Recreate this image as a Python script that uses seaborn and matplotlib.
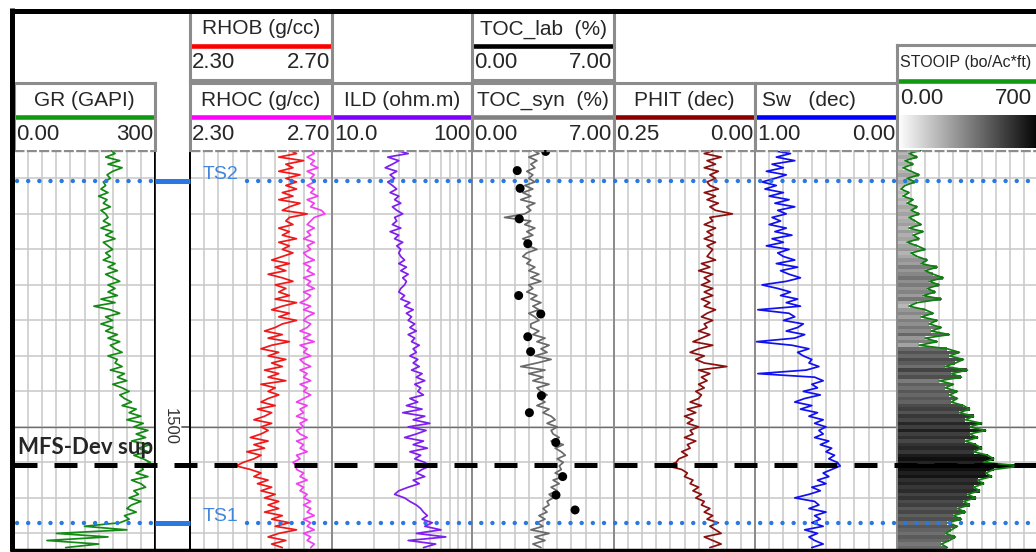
import numpy as np
import seaborn as sns
import matplotlib.pyplot as plt
from matplotlib import colors as mcolors

sns.set_style('white')
plt.rcParams['font.family'] = ['Liberation Sans', 'DejaVu Sans']

W, H = 1036, 552

# log samples every 0.5 m, 1461.0 - 1517.0 m
depth = 1461.0 + 0.5 * np.arange(113)

gr = [205, 215, 195, 225, 200, 230, 210, 198, 205, 190,
      195, 185, 200, 180, 198, 190, 205, 185, 195, 200,
      190, 205, 185, 210, 195, 215, 190, 200, 210, 195,
      205, 190, 215, 200, 220, 195, 210, 225, 200, 215,
      200, 220, 185, 215, 170, 205, 225, 195, 210, 185,
      210, 195, 220, 200, 225, 205, 215, 230, 200, 220,
      215, 230, 205, 235, 220, 240, 210, 230, 245, 225,
      235, 250, 230, 260, 245, 270, 240, 275, 255, 285,
      260, 280, 250, 290, 265, 285, 255, 275, 290, 270,
      275, 260, 285, 250, 270, 280, 255, 265, 245, 270,
      250, 240, 260, 235, 245, 225, 150, 240, 90, 200,
      70, 180, 110]

rhob = [2.58, 2.60, 2.55, 2.62, 2.57, 2.59, 2.55, 2.61, 2.57, 2.60,
        2.57, 2.60, 2.56, 2.59, 2.55, 2.61, 2.58, 2.56, 2.63, 2.58,
        2.57, 2.59, 2.55, 2.58, 2.56, 2.60, 2.55, 2.58, 2.56, 2.59,
        2.56, 2.53, 2.58, 2.54, 2.57, 2.52, 2.56, 2.59, 2.54, 2.57,
        2.55, 2.58, 2.54, 2.60, 2.56, 2.53, 2.58, 2.55, 2.60, 2.56,
        2.54, 2.51, 2.56, 2.52, 2.58, 2.53, 2.50, 2.55, 2.52, 2.57,
        2.53, 2.56, 2.51, 2.55, 2.52, 2.57, 2.50, 2.54, 2.52, 2.55,
        2.52, 2.50, 2.54, 2.49, 2.53, 2.51, 2.48, 2.53, 2.50, 2.52,
        2.50, 2.47, 2.52, 2.48, 2.51, 2.46, 2.50, 2.48, 2.45, 2.43,
        2.47, 2.50, 2.48, 2.52, 2.49, 2.53, 2.50, 2.54, 2.51, 2.55,
        2.52, 2.55, 2.51, 2.56, 2.53, 2.58, 2.54, 2.60, 2.55, 2.52,
        2.57, 2.53, 2.56]

rhoc = [2.64, 2.65, 2.63, 2.65, 2.64, 2.66, 2.63, 2.65, 2.64, 2.65,
        2.63, 2.65, 2.64, 2.66, 2.63, 2.65, 2.64, 2.67, 2.68, 2.65,
        2.64, 2.63, 2.65, 2.63, 2.64, 2.62, 2.65, 2.63, 2.64, 2.62,
        2.63, 2.65, 2.62, 2.64, 2.63, 2.65, 2.62, 2.64, 2.63, 2.65,
        2.62, 2.64, 2.63, 2.61, 2.64, 2.62, 2.65, 2.63, 2.62, 2.64,
        2.63, 2.61, 2.64, 2.62, 2.65, 2.61, 2.63, 2.62, 2.64, 2.61,
        2.62, 2.64, 2.61, 2.63, 2.62, 2.64, 2.61, 2.63, 2.62, 2.64,
        2.62, 2.60, 2.63, 2.61, 2.62, 2.60, 2.63, 2.61, 2.62, 2.60,
        2.61, 2.63, 2.60, 2.62, 2.61, 2.63, 2.60, 2.61, 2.59, 2.60,
        2.60, 2.62, 2.61, 2.63, 2.60, 2.62, 2.61, 2.63, 2.62, 2.64,
        2.62, 2.64, 2.63, 2.65, 2.62, 2.64, 2.63, 2.65, 2.62, 2.64,
        2.63, 2.65, 2.64]

ild = [28, 35, 25, 30, 27, 24, 29, 26, 28, 25,
       27, 29, 26, 30, 28, 31, 27, 29, 32, 28,
       29, 27, 31, 26, 30, 28, 32, 29, 31, 30,
       31, 33, 30, 34, 31, 35, 32, 34, 33, 31,
       30, 33, 31, 36, 33, 38, 34, 37, 35, 39,
       36, 40, 35, 39, 37, 42, 38, 40, 36, 41,
       38, 42, 37, 44, 40, 46, 39, 43, 41, 45,
       36, 41, 34, 44, 32, 46, 38, 50, 35, 47,
       40, 33, 45, 38, 48, 36, 43, 39, 46, 50,
       44, 40, 46, 38, 42, 35, 30, 28, 33, 36,
       40, 43, 45, 48, 44, 52, 46, 60, 40, 65,
       35, 55, 45]

toc_syn = [3.0, 3.3, 2.8, 3.2, 2.9, 3.1, 2.7, 3.0, 2.8, 3.1,
           2.6, 3.0, 2.5, 2.9, 2.4, 3.1, 2.7, 2.9, 2.6, 1.6,
           2.9, 2.6, 3.1, 2.7, 3.0, 2.5, 2.9, 2.8, 3.2, 2.7,
           2.5, 2.9, 2.7, 3.1, 2.8, 3.3, 2.9, 3.4, 2.8, 3.0,
           2.7, 3.2, 2.9, 3.4, 3.0, 3.3, 2.8, 3.1, 3.3, 2.9,
           2.9, 3.3, 3.0, 3.6, 3.2, 3.8, 3.4, 3.7, 3.1, 3.9,
           3.2, 2.4, 3.6, 2.8, 3.5, 3.0, 3.8, 3.2, 3.4, 3.7,
           3.3, 3.6, 3.2, 3.8, 3.5, 3.9, 4.1, 3.7, 4.2, 3.9,
           4.0, 4.3, 3.9, 4.5, 4.1, 4.4, 4.6, 4.2, 4.5, 4.3,
           4.4, 4.1, 4.5, 4.0, 4.3, 3.9, 4.2, 3.8, 4.0, 3.7,
           3.8, 3.5, 3.7, 3.3, 3.6, 3.2, 3.5, 2.9, 3.8, 3.1,
           3.6, 3.0, 3.4]

phit = [0.070, 0.090, 0.060, 0.085, 0.070, 0.090, 0.065, 0.080, 0.070, 0.085,
        0.080, 0.065, 0.090, 0.070, 0.085, 0.065, 0.080, 0.070, 0.040, 0.080,
        0.075, 0.090, 0.070, 0.085, 0.075, 0.090, 0.070, 0.085, 0.075, 0.080,
        0.085, 0.070, 0.095, 0.080, 0.100, 0.075, 0.090, 0.080, 0.095, 0.075,
        0.090, 0.075, 0.095, 0.080, 0.090, 0.070, 0.085, 0.095, 0.075, 0.090,
        0.085, 0.100, 0.080, 0.095, 0.110, 0.075, 0.100, 0.115, 0.090, 0.105,
        0.090, 0.050, 0.100, 0.080, 0.095, 0.085, 0.100, 0.090, 0.105, 0.095,
        0.100, 0.115, 0.095, 0.120, 0.105, 0.125, 0.110, 0.120, 0.100, 0.115,
        0.110, 0.125, 0.105, 0.120, 0.115, 0.130, 0.120, 0.135, 0.140, 0.155,
        0.130, 0.120, 0.125, 0.110, 0.115, 0.100, 0.110, 0.095, 0.105, 0.090,
        0.095, 0.080, 0.090, 0.075, 0.085, 0.065, 0.080, 0.070, 0.060, 0.090,
        0.075, 0.060, 0.080]

sw = [0.90, 0.75, 0.85, 0.72, 0.88, 0.80, 0.92, 0.78, 0.86, 0.95,
      0.85, 0.93, 0.80, 0.90, 0.76, 0.86, 0.72, 0.84, 0.78, 0.88,
      0.82, 0.90, 0.78, 0.86, 0.74, 0.88, 0.80, 0.92, 0.76, 0.84,
      0.80, 0.72, 0.85, 0.70, 0.82, 0.76, 0.68, 0.78, 0.95, 0.84,
      0.75, 0.82, 0.70, 0.78, 0.68, 0.98, 0.76, 0.72, 0.80, 0.66,
      0.70, 0.78, 0.65, 0.72, 0.99, 0.74, 0.62, 0.70, 0.66, 0.60,
      0.62, 0.55, 0.64, 0.98, 0.58, 0.52, 0.60, 0.56, 0.66, 0.54,
      0.65, 0.72, 0.60, 0.68, 0.56, 0.62, 0.52, 0.58, 0.50, 0.55,
      0.52, 0.58, 0.48, 0.54, 0.46, 0.50, 0.44, 0.48, 0.42, 0.40,
      0.46, 0.52, 0.48, 0.56, 0.50, 0.60, 0.54, 0.62, 0.72, 0.58,
      0.55, 0.62, 0.50, 0.58, 0.54, 0.60, 0.52, 0.65, 0.56, 0.62,
      0.58, 0.52, 0.60]

stooip = [120, 60, 100, 40, 80, 30, 70, 110, 50, 90,
          40, 20, 60, 30, 80, 50, 100, 70, 110, 60,
          90, 120, 60, 130, 80, 110, 50, 100, 140, 70,
          100, 150, 120, 200, 140, 180, 230, 160, 210, 150,
          190, 130, 220, 100, 60, 140, 180, 120, 200, 160,
          220, 170, 260, 140, 200, 110, 250, 310, 260, 330,
          290, 240, 350, 270, 320, 210, 280, 240, 300, 260,
          300, 270, 330, 360, 310, 380, 340, 420, 360, 440,
          360, 400, 340, 390, 420, 380, 450, 480, 430, 620,
          480, 440, 470, 400, 430, 380, 410, 350, 390, 330,
          360, 300, 340, 280, 320, 250, 300, 270, 240, 290,
          260, 220, 250]

toc_lab_depth = [1461.2, 1463.9, 1466.4, 1470.7, 1474.2, 1481.5, 1484.1, 1487.3,
                 1489.4, 1495.6, 1498.0, 1502.2, 1507.0, 1509.6, 1511.7]
toc_lab = [3.63, 2.23, 2.37, 2.33, 2.75, 2.30, 3.39, 2.75,
           2.89, 3.42, 2.83, 4.13, 4.47, 4.14, 5.08]

tops = ['TS2', 'MFS-Dev sup', 'TS1']
top_depth = [1465.35, 1505.35, 1513.5]

D_TOP, D_BOT = 1461.0, 1517.2
GRID = '#c8c8c8'
BORDER = '#8c8c8c'

fig = plt.figure(figsize=(W / 100, H / 100), dpi=100)


def px_axes(x0, y0, x1, y1, **kw):
    # axes placed by pixel box (y measured from the top)
    return fig.add_axes([x0 / W, 1 - y1 / H, (x1 - x0) / W, (y1 - y0) / H], **kw)


def style_track(ax, xlim, ticks, lcol=BORDER, rcol=BORDER):
    ax.set_xlim(*xlim)
    ax.set_ylim(D_BOT, D_TOP)
    ax.set_xticks(ticks)
    ax.xaxis.set_minor_locator(plt.NullLocator())
    ax.set_yticks(np.arange(1465, 1516, 5))
    ax.grid(True, color=GRID, lw=1.1)
    ax.set_axisbelow(True)
    ax.tick_params(length=0, labelbottom=False, labelleft=False)
    ax.set_xlabel('')
    ax.set_ylabel('')
    for s in ['top', 'bottom']:
        ax.spines[s].set_visible(False)
    ax.spines['left'].set_color(lcol)
    ax.spines['right'].set_color(rcol)
    ax.spines['left'].set_linewidth(1.4)
    ax.spines['right'].set_linewidth(1.4)
    ax.axhline(1500, color='#6e6e6e', lw=1.0, zorder=1.5)
    ax.axhline(D_TOP, color=BORDER, lw=2.4, ls=(0, (3, 0.7)), clip_on=False, zorder=5)


def curve(ax, x, color):
    sns.lineplot(x=x, y=depth, orient='y', sort=False, estimator=None,
                 color=color, lw=1.25, ax=ax)


# GR
ax = px_axes(14, 150, 155, 549)
curve(ax, gr, '#138a13')
style_track(ax, (0, 300), np.linspace(0, 300, 11), rcol='black')

# depth column
dt = px_axes(155, 150, 190, 549)
dt.set_xlim(0, 1)
dt.set_ylim(D_BOT, D_TOP)
dt.set_xticks([])
dt.set_yticks([])
for s in ['top', 'bottom']:
    dt.spines[s].set_visible(False)
for s in ['left', 'right']:
    dt.spines[s].set_color('black')
    dt.spines[s].set_linewidth(1.2)
dt.text(0.43, 1500, '1500', rotation=-90, ha='center', va='center',
        fontsize=12, color='#333333')
dt.plot([0.78, 1], [1500, 1500], color='#505050', lw=1.2)

# RHOB / RHOC
ax = px_axes(190, 150, 332, 549)
curve(ax, rhob, '#f01818')
curve(ax, rhoc, '#f040f0')
style_track(ax, (2.30, 2.70), np.linspace(2.30, 2.70, 11), lcol='black')

# ILD (log)
ax = px_axes(332, 150, 472, 549)
ax.set_xscale('log')
curve(ax, ild, '#7f1fef')
style_track(ax, (10, 100), np.arange(10, 101, 10))

# TOC
ax = px_axes(472, 150, 614, 549)
curve(ax, toc_syn, '#6a6a6a')
sns.scatterplot(x=toc_lab, y=toc_lab_depth, color='black', s=42,
                edgecolor='none', zorder=4, clip_on=False, ax=ax)
style_track(ax, (0, 7), np.linspace(0, 7, 11))

# PHIT
ax = px_axes(614, 150, 755, 549)
curve(ax, phit, '#8b1010')
style_track(ax, (0.25, 0), np.linspace(0, 0.25, 11))

# Sw
ax = px_axes(755, 150, 897, 549)
curve(ax, sw, '#1010f0')
style_track(ax, (1, 0), np.linspace(0, 1, 11))

# STOOIP with grey shading by value
ax = px_axes(897, 150, 1038, 549)
shade = plt.cm.gray_r(mcolors.Normalize(-120, 520, clip=True)(np.array(stooip)))
ax.barh(depth, stooip, height=0.5, left=0, color=shade, linewidth=0, zorder=2)
curve(ax, stooip, '#0f7f0f')
style_track(ax, (0, 700), np.linspace(0, 700, 11))

# header cells
headers = [
    ('GR (GAPI)', 14, 83, 155, 150, '#119911', '0.00', '300'),
    ('RHOB (g/cc)', 190, 12, 332, 80, '#ff0000', '2.30', '2.70'),
    ('RHOC (g/cc)', 190, 83, 332, 150, '#ff00ff', '2.30', '2.70'),
    ('ILD (ohm.m)', 332, 83, 472, 150, '#8000ff', '10.0', '100'),
    ('TOC_lab  (%)', 472, 12, 614, 80, '#000000', '0.00', '7.00'),
    ('TOC_syn  (%)', 472, 83, 614, 150, '#808080', '0.00', '7.00'),
    ('PHIT (dec)', 614, 83, 755, 150, '#8b0000', '0.25', '0.00'),
    ('Sw   (dec)', 755, 83, 897, 150, '#0000ff', '1.00', '0.00'),
]


def header_axes(x0, y0, x1, y1):
    hx = px_axes(x0, y0, x1, y1)
    hx.set_xlim(x0, x1)
    hx.set_ylim(y1, y0)
    hx.set_xticks([])
    hx.set_yticks([])
    for s in hx.spines.values():
        s.set_color(BORDER)
        s.set_linewidth(2.2)
    return hx


for title, x0, y0, x1, y1, col, lo, hi in headers:
    hx = header_axes(x0, y0, x1, y1)
    if y1 == 150:
        hx.spines['bottom'].set_visible(False)
    if title.startswith('Sw'):
        hx.text(x0 + 7, y0 + 17, title, ha='left', va='center', fontsize=15)
    else:
        hx.text((x0 + x1) / 2, y0 + 17, title, ha='center', va='center', fontsize=15)
    hx.axhline(y0 + 34, color=col, lw=3.3)
    hx.text(x0 + 2, y0 + 51, lo, ha='left', va='center', fontsize=16)
    hx.text(x1 - 2, y0 + 51, hi, ha='right', va='center', fontsize=16)

hx = header_axes(897, 45, 1040, 150)
hx.spines['bottom'].set_visible(False)
hx.text(900, 62, 'STOOIP (bo/Ac*ft)', ha='left', va='center', fontsize=11.5)
hx.axhline(81, color='#119911', lw=3.3)
hx.text(900, 99, '0.00', ha='left', va='center', fontsize=16)
hx.text(1032, 99, '700', ha='right', va='center', fontsize=16)
hx.imshow(np.linspace(0, 1, 256)[None, :], cmap='gray_r', aspect='auto',
          extent=(898, 1040, 148, 115))
hx.set_xlim(897, 1040)
hx.set_ylim(150, 45)

# formation tops over all tracks
ov = px_axes(0, 150, W, 549, zorder=5)
ov.set_xlim(0, W)
ov.set_ylim(D_BOT, D_TOP)
ov.axis('off')
ov.patch.set_alpha(0)
for name, d in zip(tops, top_depth):
    if name.startswith('TS'):
        dots = dict(color='#2a78e4', lw=3.2, ls=(0, (0.01, 2.5)), dash_capstyle='round')
        ov.plot([17, 152], [d, d], **dots)
        ov.plot([155, 190], [d, d], color='#2a78e4', lw=3.6, solid_capstyle='butt')
        ov.plot([247, W], [d, d], **dots)
        ov.annotate(name, (203, d), xytext=(0, 1), textcoords='offset points',
                    ha='left', va='baseline', fontsize=14, color='#3f86dc')
    else:
        ov.plot([14, W], [d, d], color='black', lw=3.6, ls=(0, (4.6, 3.4)))
        ov.annotate(name, (18, d), xytext=(0, 7.5), textcoords='offset points',
                    ha='left', va='baseline', fontsize=16, fontweight='bold',
                    family=['Lato', 'DejaVu Sans'])

# outer frame
fa = fig.add_axes([0, 0, 1, 1], zorder=10)
fa.set_xlim(0, W)
fa.set_ylim(H, 0)
fa.axis('off')
fa.patch.set_alpha(0)
fa.plot([10, W], [10.5, 10.5], color='black', lw=3.6, solid_capstyle='butt')
fa.plot([11.5, 11.5], [8, 551], color='black', lw=3.6, solid_capstyle='butt')
fa.plot([10, W], [550, 550], color='black', lw=2.5, solid_capstyle='butt')

fig.savefig('out.png', dpi=100)
